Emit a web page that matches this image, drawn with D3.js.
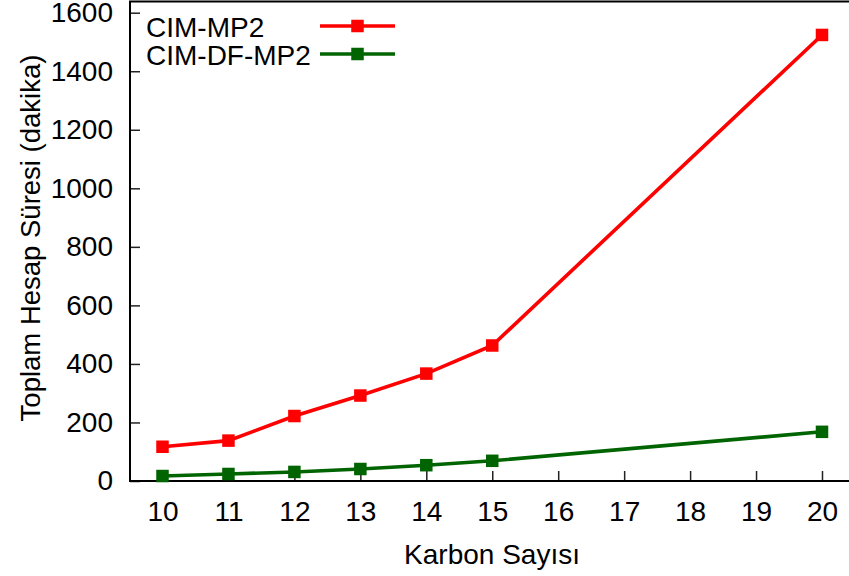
<!doctype html>
<meta charset="utf-8">
<body style="margin:0;background:#fff">

<div id="chart"></div>

<script src="https://d3js.org/d3.v7.min.js"></script>
<script>

// values
const carbons = [10, 11, 12, 13, 14, 15, 20]
const cimMp2 = [117, 138, 222, 292, 367, 463, 1524]
const cimDfMp2 = [17, 24, 31, 41, 54, 69, 168]
const xTicks = [10, 11, 12, 13, 14, 15, 16, 17, 18, 19, 20]
const yTicks = [0, 200, 400, 600, 800, 1000, 1200, 1400, 1600]
const seriesNames = ["CIM-MP2", "CIM-DF-MP2"]
const seriesColors = ["#ff0000", "#006400"]

function main () {
  const width = 849
  const height = 576
  const font = "'Liberation Sans', Arial, Helvetica, sans-serif"

  const frame = { left: 130, right: 849, top: 1.5, bottom: 481 }

  const svg = d3.select("#chart").append("svg")
    .attr("width", width)
    .attr("height", height)
    .style("font-family", font)

  const x = d3.scaleLinear()
    .domain([10, 20])
    .range([162.5, 822])

  const y = d3.scaleLinear()
    .domain([0, 1600])
    .range([481, 12.7])

  // axes, ticks pointing inward
  const xAxis = svg.append("g")
    .attr("transform", "translate(0," + frame.bottom + ")")
    .call(d3.axisBottom(x).tickValues(xTicks).tickFormat(d3.format("d"))
      .tickSizeInner(-10).tickSizeOuter(0).tickPadding(20))
  xAxis.select(".domain").remove()

  const yAxis = svg.append("g")
    .attr("transform", "translate(" + frame.left + ",0)")
    .call(d3.axisLeft(y).tickValues(yTicks).tickFormat(d3.format("d"))
      .tickSizeInner(-10).tickSizeOuter(0).tickPadding(17))
  yAxis.select(".domain").remove()

  svg.selectAll(".tick line")
    .attr("stroke", "#222")
    .attr("stroke-width", 1.5)
  svg.selectAll(".tick text")
    .attr("fill", "#000")
    .style("font-size", "28px")
    .style("font-family", font)

  // frame: left, bottom, top
  svg.append("path")
    .attr("d", "M" + frame.right + "," + frame.top + "H" + frame.left + "V" + frame.bottom + "H" + frame.right)
    .attr("fill", "none")
    .attr("stroke", "#000")
    .attr("stroke-width", 2)

  // axis titles
  svg.append("text")
    .attr("x", 492)
    .attr("y", 564)
    .attr("text-anchor", "middle")
    .style("font-size", "28px")
    .text("Karbon Sayısı")

  svg.append("text")
    .attr("transform", "translate(40,238) rotate(-90)")
    .attr("text-anchor", "middle")
    .style("font-size", "27.5px")
    .text("Toplam Hesap Süresi (dakika)")

  const line = d3.line()
    .x(d => x(d[0]))
    .y(d => y(d[1]))

  const series = [cimMp2, cimDfMp2]
  const ms = 12.5
  const lw = 3.6

  series.forEach((vals, i) => {
    const pts = carbons.map((c, j) => [c, vals[j]])
    const g = svg.append("g")
    g.append("path")
      .datum(pts)
      .attr("d", line)
      .attr("fill", "none")
      .attr("stroke", seriesColors[i])
      .attr("stroke-width", lw)
    g.selectAll("rect")
      .data(pts)
      .enter()
      .append("rect")
      .attr("x", d => x(d[0]) - ms / 2)
      .attr("y", d => y(d[1]) - ms / 2)
      .attr("width", ms)
      .attr("height", ms)
      .attr("fill", seriesColors[i])
  })

  // legend
  const legend = svg.append("g")
  seriesNames.forEach((name, i) => {
    const base = 37 + i * 28
    legend.append("text")
      .attr("x", 146)
      .attr("y", base)
      .style("font-size", "28px")
      .text(name)
    legend.append("line")
      .attr("x1", 320)
      .attr("x2", 395)
      .attr("y1", base - 11)
      .attr("y2", base - 11)
      .attr("stroke", seriesColors[i])
      .attr("stroke-width", lw)
    legend.append("rect")
      .attr("x", 357.5 - ms / 2)
      .attr("y", base - 11 - ms / 2)
      .attr("width", ms)
      .attr("height", ms)
      .attr("fill", seriesColors[i])
  })
}

main()

</script>
</body>
